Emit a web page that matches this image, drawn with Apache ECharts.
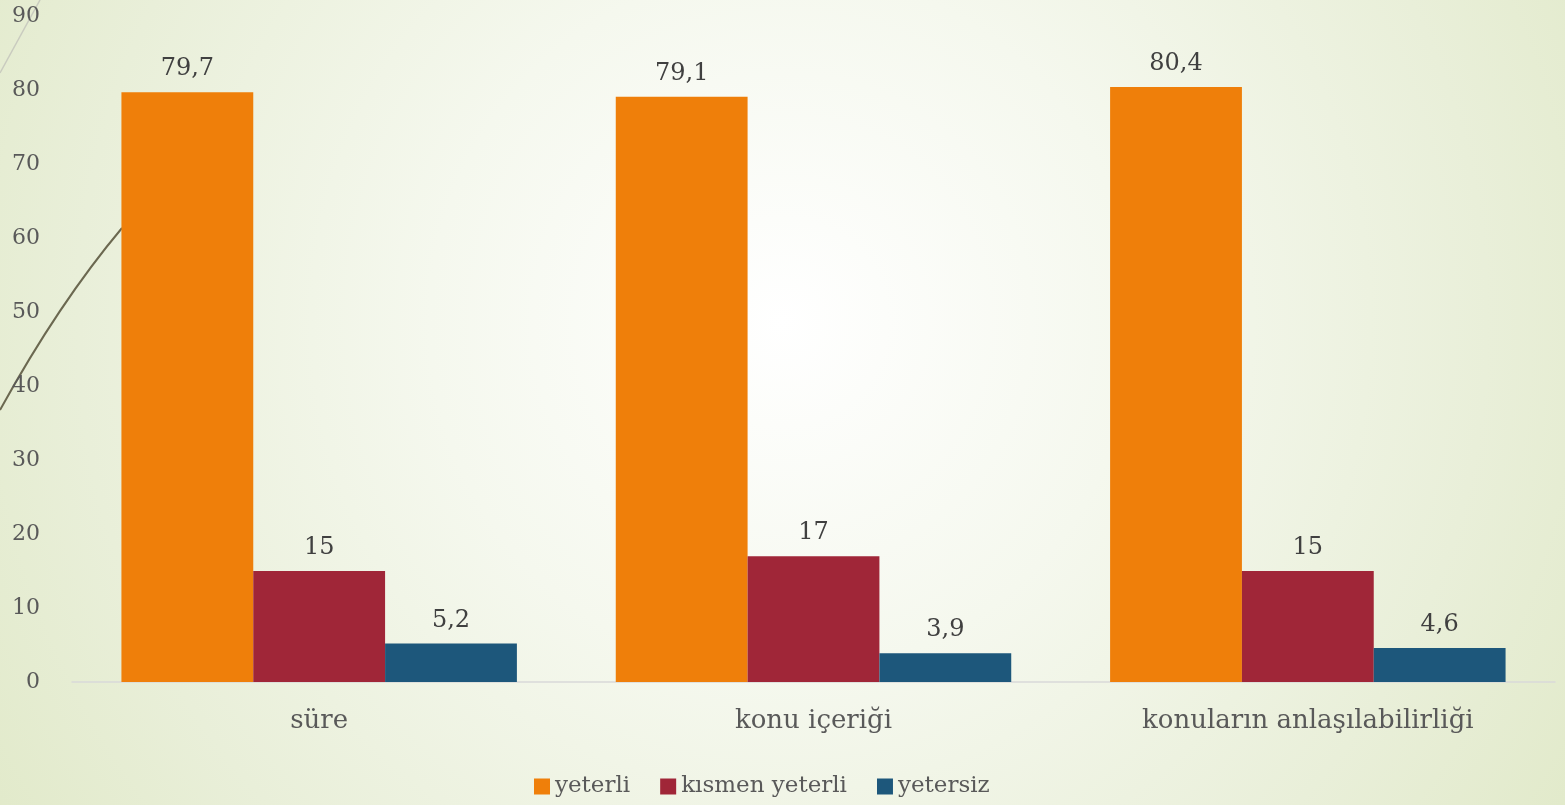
<!DOCTYPE html>
<html>
<head>
<meta charset="utf-8">
<script src="https://cdn.jsdelivr.net/npm/echarts@6/dist/echarts.min.js"></script>
<style>
    html, body { margin: 0; padding: 0; }
    #chart { width: 1565px; height: 805px; }
</style>
</head>
<body>
<div id="chart"></div>
<script>
const categories = ['süre', 'konu içeriği', 'konuların anlaşılabilirliği']
const seriesNames = ['yeterli', 'kısmen yeterli', 'yetersiz']
const yeterli = [79.7, 79.1, 80.4]
const kismenYeterli = [15, 17, 15]
const yetersiz = [5.2, 3.9, 4.6]
const colors = ['#EF7F0A', '#A02638', '#1D577B']

const font = '"DejaVu Serif", "Liberation Serif", serif'
const chart = echarts.init(document.getElementById('chart'))

const makeSeries = (name, data) => ({
    type: 'bar',
    name,
    data,
    barGap: '0%',
    barCategoryGap: '20%',
    label: {
        show: true,
        position: 'top',
        distance: 11,
        color: '#404040',
        fontFamily: font,
        fontSize: 24,
        formatter: (p) => String(p.value).replace('.', ','),
    },
})

chart.setOption({
    // slide background: white centre fading to pale green
    backgroundColor: {
        type: 'radial',
        x: 0.5,
        y: 0.4,
        r: 1.25,
        colorStops: [
            { offset: 0, color: '#ffffff' },
            { offset: 0.35, color: '#f5f8ee' },
            { offset: 0.7, color: '#e9efd9' },
            { offset: 1, color: '#dfe8c5' },
        ],
    },
    color: colors,
    animation: false,
    graphic: [
        {
            type: 'bezierCurve',
            z: -1,
            shape: { x1: 0, y1: 410, x2: 122, y2: 228, cpx1: 59, cpy1: 303 },
            style: { stroke: '#6b6850', lineWidth: 2, fill: null },
        },
        {
            type: 'line',
            z: -1,
            shape: { x1: 0, y1: 73, x2: 40, y2: 0 },
            style: { stroke: '#c9cbbf', lineWidth: 1.5 },
        },
    ],
    grid: {
        left: 72,
        right: 10,
        top: 16,
        bottom: 123,
    },
    legend: {
        data: seriesNames,
        left: 529,
        top: 770,
        itemWidth: 16,
        itemHeight: 16,
        itemGap: 30,
        icon: 'rect',
        textStyle: {
            color: '#595959',
            fontFamily: font,
            fontSize: 23,
        },
    },
    xAxis: {
        type: 'category',
        data: categories,
        axisLine: { lineStyle: { color: '#d9d9d9', width: 1.5 } },
        axisTick: { show: false },
        axisLabel: {
            color: '#595959',
            fontFamily: font,
            fontSize: 26,
            margin: 26,
        },
    },
    yAxis: {
        type: 'value',
        min: 0,
        max: 90,
        interval: 10,
        axisLine: { show: false },
        axisTick: { show: false },
        splitLine: { show: false },
        axisLabel: {
            color: '#595959',
            fontFamily: font,
            fontSize: 22,
            margin: 32,
        },
    },
    series: [
        makeSeries(seriesNames[0], yeterli),
        makeSeries(seriesNames[1], kismenYeterli),
        makeSeries(seriesNames[2], yetersiz),
    ],
})
</script>
</body>
</html>
